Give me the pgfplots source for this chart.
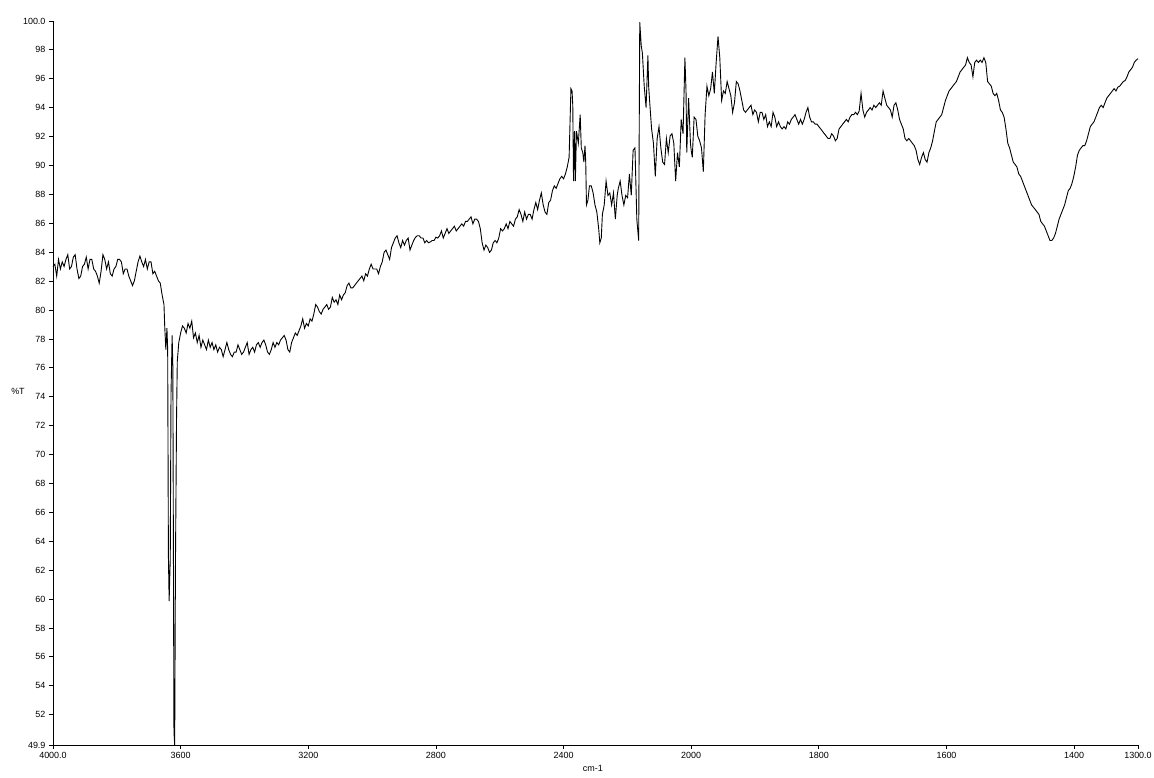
\documentclass[border=0pt]{standalone}
\usepackage{fontspec}
\setmainfont{Liberation Sans}
\usepackage{pgfplots}
\pgfplotsset{compat=1.18}

% IR spectrum: 4000-2000 cm-1 at one scale, 2000-1300 at twice that scale
\pgfplotsset{
  irbase/.style={
    scale only axis,
    height=724bp,
    ymin=49.9, ymax=100,
    x dir=reverse,
    axis x line*=bottom,
    axis line style={-, line width=0.8bp},
    tick align=outside,
    major tick length=4bp,
    tick style={black, line width=0.8bp},
    ticklabel style={font=\fontsize{9}{10}\selectfont},
    /pgf/number format/assume math mode=true,
    clip=false,
  },
  irline/.style={black, line width=0.9bp, mark=none},
}

\begin{document}
\begin{tikzpicture}
\useasboundingbox (-53bp,-33bp) rectangle (1101bp,745bp);

\begin{axis}[
  irbase,
  width=638.2bp,
  xmin=2000, xmax=4000,
  axis y line*=left,
  xtick={4000,3600,3200,2800,2400},
  xticklabels={4000.0,3600,3200,2800,2400},
  ytick={49.9,52,54,56,58,60,62,64,66,68,70,72,74,76,78,80,82,84,86,88,90,92,94,96,98,100},
  yticklabels={49.9,52,54,56,58,60,62,64,66,68,70,72,74,76,78,80,82,84,86,88,90,92,94,96,98,100.0},
  ylabel={\%T},
  ylabel style={rotate=-90, at={(axis description cs:0,0.488)}, anchor=center, xshift=-35bp, font=\fontsize{9}{10}\selectfont},
  xlabel={cm-1},
  xlabel style={at={(axis description cs:0.846,0)}, anchor=center, yshift=-23bp, font=\fontsize{9}{10}\selectfont},
]
\addplot[irline] coordinates {
(4000.0,83.01) (3994.2,83.17) (3988.4,82.35) (3982.6,83.50) (3976.8,82.84)
(3971.0,83.33) (3965.2,83.01) (3959.4,83.50) (3953.6,83.83) (3947.8,82.84)
(3942.1,83.01) (3936.3,83.66) (3930.5,83.83) (3924.7,82.84) (3918.9,82.18)
(3913.1,82.35) (3907.3,83.01) (3901.5,83.17) (3895.7,83.66) (3889.9,82.84)
(3884.1,83.50) (3878.3,83.50) (3872.5,82.84) (3866.7,82.68) (3860.9,82.35)
(3855.1,81.86) (3849.3,82.68) (3843.5,83.83) (3837.7,83.50) (3831.9,82.84)
(3826.1,83.33) (3820.3,82.51) (3814.5,82.35) (3808.7,82.84) (3802.9,83.01)
(3797.2,83.50) (3791.3,83.50) (3785.6,83.33) (3779.7,82.51) (3774.0,82.84)
(3768.1,82.84) (3762.4,82.35) (3756.6,82.02) (3750.8,81.69) (3745.0,82.02)
(3739.2,82.68) (3733.4,83.33) (3727.6,83.73) (3721.8,83.33) (3716.0,83.01)
(3710.2,83.50) (3704.4,82.84) (3698.6,83.33) (3692.8,83.33) (3687.0,82.51)
(3681.2,82.68) (3675.4,82.35) (3669.6,82.02) (3663.8,81.86) (3658.0,81.04)
(3652.2,80.38) (3649.9,78.90) (3646.4,77.26) (3642.9,78.74) (3640.6,77.26)
(3638.3,62.97) (3636.0,59.85) (3632.5,62.81) (3630.2,74.14) (3626.7,78.24)
(3624.4,76.11) (3620.9,50.82) (3618.6,49.90) (3616.3,62.15) (3612.8,72.50)
(3610.5,76.44) (3605.8,77.75) (3600.0,78.41) (3594.2,78.90) (3588.4,78.74)
(3582.6,78.41) (3576.8,79.07) (3571.0,78.74) (3565.2,79.23) (3559.5,78.08)
(3553.7,78.41) (3547.9,77.75) (3542.1,78.24) (3536.3,77.42) (3530.5,77.92)
(3524.7,77.59) (3518.9,77.26) (3513.1,77.92) (3507.3,77.42) (3501.5,77.75)
(3495.7,77.26) (3489.9,77.59) (3484.1,77.09) (3478.3,77.42) (3472.5,77.26)
(3466.7,76.77) (3460.9,77.26) (3455.1,77.75) (3449.3,77.26) (3443.5,76.93)
(3437.7,76.77) (3431.9,77.09) (3426.1,77.09) (3420.3,77.59) (3414.5,77.26)
(3408.7,76.93) (3402.9,77.09) (3397.1,77.42) (3391.4,77.75) (3385.5,76.93)
(3379.8,77.26) (3374.0,77.42) (3368.2,77.09) (3362.4,77.59) (3356.6,77.75)
(3350.8,77.42) (3345.0,77.75) (3339.2,77.92) (3333.4,77.59) (3327.6,77.09)
(3321.8,76.93) (3316.0,77.26) (3310.2,77.75) (3304.4,77.42) (3298.6,77.75)
(3292.8,77.59) (3287.0,77.92) (3281.2,78.08) (3275.4,78.24) (3269.6,77.92)
(3263.8,77.26) (3258.0,77.09) (3252.2,77.75) (3246.4,78.08) (3240.6,78.41)
(3234.8,78.24) (3229.0,78.57) (3223.2,78.90) (3217.4,79.39) (3211.6,78.74)
(3205.8,79.07) (3200.0,78.90) (3194.2,79.39) (3188.4,79.23) (3182.6,79.72)
(3176.8,80.38) (3171.1,80.21) (3165.3,79.89) (3159.5,79.72) (3153.7,80.05)
(3147.9,80.21) (3142.1,80.38) (3136.3,80.05) (3130.5,80.21) (3124.7,80.87)
(3118.9,80.54) (3113.1,80.71) (3107.3,80.38) (3101.5,81.04) (3095.7,80.71)
(3089.9,81.04) (3084.1,81.20) (3078.3,81.69) (3072.5,81.86) (3066.7,81.53)
(3060.9,81.53) (3055.1,81.69) (3049.3,81.86) (3043.5,82.02) (3037.7,82.18)
(3031.9,82.35) (3026.1,82.02) (3020.3,82.51) (3014.5,82.35) (3008.7,82.84)
(3002.9,83.17) (2997.1,82.84) (2991.3,82.84) (2985.6,82.84) (2979.8,82.51)
(2974.0,83.01) (2968.2,83.33) (2962.4,83.99) (2956.6,84.15) (2950.8,83.83)
(2945.0,83.50) (2939.2,84.32) (2933.4,84.65) (2927.6,84.98) (2921.8,85.14)
(2916.0,84.65) (2910.2,84.32) (2904.4,84.81) (2898.6,84.49) (2892.8,84.81)
(2887.0,84.98) (2881.2,84.15) (2875.4,84.49) (2869.6,84.81) (2863.8,85.04)
(2858.0,85.14) (2852.2,85.14) (2846.4,84.98) (2840.6,84.98) (2834.8,84.65)
(2829.0,84.81) (2823.2,84.65) (2817.4,84.71) (2811.6,84.81) (2805.8,84.81)
(2800.0,85.04) (2794.2,84.98) (2788.4,85.14) (2782.7,85.47) (2776.9,84.98)
(2771.1,85.30) (2765.3,85.63) (2759.5,85.30) (2753.7,85.47) (2747.9,85.63)
(2742.1,85.80) (2736.3,85.47) (2730.5,85.63) (2724.7,85.80) (2718.9,85.96)
(2713.1,85.80) (2707.3,86.13) (2701.5,86.13) (2695.7,86.29) (2689.9,86.45)
(2684.1,85.96) (2678.3,86.29) (2672.5,86.29) (2666.7,86.13) (2660.9,85.63)
(2655.1,84.65) (2649.3,84.15) (2643.5,84.49) (2637.7,84.32) (2631.9,83.99)
(2626.1,84.15) (2620.3,84.65) (2614.5,84.81) (2608.8,84.65) (2603.0,84.98)
(2597.2,85.63) (2591.4,85.47) (2585.6,85.63) (2579.8,85.96) (2574.0,85.63)
(2568.2,86.13) (2562.4,85.96) (2556.6,85.80) (2550.8,86.29) (2545.0,86.45)
(2539.2,86.95) (2533.4,86.62) (2527.6,86.13) (2521.8,86.78) (2516.0,86.29)
(2510.2,86.62) (2504.4,86.62) (2498.6,86.29) (2492.8,86.95) (2487.0,87.44)
(2481.2,86.95) (2475.4,87.60) (2469.6,88.10) (2463.8,87.27) (2458.0,86.78)
(2452.2,86.62) (2446.4,87.44) (2440.6,87.60) (2434.8,88.26) (2429.0,88.59)
(2423.2,88.42) (2417.4,88.75) (2411.6,89.08) (2405.8,89.25) (2400.0,89.08)
(2394.2,89.41) (2388.4,89.90) (2382.6,90.56) (2376.9,95.32) (2373.4,95.16)
(2371.1,94.17) (2368.7,88.92) (2365.3,92.37) (2363.0,88.92) (2359.5,92.37)
(2353.7,91.54) (2347.9,93.52) (2344.4,91.22) (2339.8,90.89) (2336.3,90.23)
(2332.8,91.38) (2330.5,90.23) (2328.2,87.27) (2323.6,87.60) (2318.9,88.59)
(2313.1,88.59) (2307.3,88.10) (2301.5,87.27) (2295.7,86.78) (2289.9,85.63)
(2286.4,84.65) (2281.8,84.98) (2278.3,86.62) (2272.5,87.27) (2266.7,88.92)
(2260.9,87.93) (2255.1,88.10) (2249.3,87.27) (2243.5,88.10) (2237.7,86.29)
(2231.9,87.93) (2228.4,88.42) (2222.6,88.92) (2216.8,87.93) (2211.0,87.27)
(2205.2,87.93) (2199.4,87.77) (2193.6,89.41) (2187.8,87.93) (2182.0,91.05)
(2176.2,91.22) (2170.4,86.29) (2164.6,84.81) (2161.2,99.92) (2156.5,98.28)
(2153.0,97.78) (2147.2,95.49) (2141.4,94.01) (2135.6,97.62) (2133.3,95.49)
(2129.9,94.34) (2124.1,92.53) (2118.3,91.54) (2112.5,89.25) (2106.7,91.87)
(2100.9,92.69) (2095.1,91.22) (2089.3,90.23) (2083.5,90.07) (2077.7,91.87)
(2071.9,90.89) (2066.1,92.04) (2060.3,92.20) (2054.5,91.54) (2048.7,88.92)
(2042.9,90.89) (2037.1,89.90) (2031.3,93.19) (2025.5,92.20) (2019.7,97.46)
(2016.2,95.16) (2013.9,90.89) (2008.1,94.66) (2002.3,91.54) (2000.0,91.05)
};
\end{axis}

\begin{axis}[
  irbase,
  at={(638.2bp,0)}, anchor=south west,
  width=446.8bp,
  xmin=1300, xmax=2000,
  axis y line=none,
  xtick={2000,1800,1600,1400,1300},
  xticklabels={2000,1800,1600,1400,1300.0},
]
\addplot[irline] coordinates {
(2000.0,91.05) (1998.3,90.56) (1995.4,93.35) (1992.5,93.19) (1989.7,92.04)
(1986.8,91.71) (1983.9,91.22) (1981.0,89.57) (1978.2,93.52) (1975.3,95.49)
(1972.4,94.83) (1969.5,95.32) (1966.7,96.47) (1963.8,94.99) (1960.9,97.13)
(1958.0,98.93) (1955.2,97.46) (1952.3,94.50) (1949.4,95.16) (1946.6,94.99)
(1943.7,95.81) (1940.8,95.32) (1937.9,94.83) (1935.1,93.68) (1932.2,94.34)
(1929.3,95.81) (1926.4,95.65) (1923.6,95.16) (1920.7,94.50) (1917.8,93.84)
(1914.9,93.68) (1912.1,93.84) (1909.2,94.01) (1906.3,94.17) (1903.4,93.52)
(1900.6,93.84) (1897.7,93.68) (1894.8,93.02) (1891.9,93.68) (1889.1,93.68)
(1886.2,93.19) (1883.3,93.52) (1880.5,92.69) (1877.6,93.02) (1874.7,92.69)
(1871.8,93.68) (1869.0,93.35) (1866.1,92.69) (1863.2,93.02) (1860.3,92.69)
(1857.5,92.53) (1854.6,92.69) (1851.7,92.53) (1848.9,93.02) (1846.0,92.86)
(1843.1,93.19) (1840.2,93.35) (1837.4,93.52) (1834.5,93.19) (1831.6,92.86)
(1828.7,93.19) (1825.9,92.86) (1823.0,93.19) (1820.1,93.68) (1817.2,94.01)
(1814.4,93.35) (1811.5,93.02) (1808.6,93.02) (1805.8,92.86) (1802.9,92.86)
(1800.0,92.69) (1797.1,92.53) (1794.3,92.37) (1791.4,92.20) (1788.5,92.04)
(1785.6,91.87) (1782.8,91.87) (1779.9,92.20) (1777.0,92.04) (1774.1,91.71)
(1771.3,91.87) (1768.4,92.53) (1765.5,92.69) (1762.7,92.86) (1759.8,93.02)
(1756.9,93.19) (1754.0,93.02) (1751.2,93.35) (1748.3,93.52) (1745.4,93.52)
(1742.5,93.68) (1739.7,93.52) (1736.8,93.78) (1733.9,94.99) (1731.0,93.84)
(1728.2,93.35) (1725.3,93.68) (1722.4,93.84) (1719.6,94.01) (1716.7,93.84)
(1713.8,94.17) (1710.9,94.01) (1708.1,94.17) (1705.2,94.34) (1702.3,94.17)
(1699.4,95.16) (1696.6,94.66) (1693.7,94.17) (1690.8,94.01) (1687.9,93.84)
(1685.1,93.35) (1682.2,94.17) (1679.3,94.34) (1676.4,93.84) (1673.6,93.19)
(1670.7,92.86) (1667.8,92.53) (1665.0,91.87) (1662.1,91.71) (1659.2,91.87)
(1656.3,91.71) (1653.5,91.54) (1650.6,91.38) (1647.7,91.05) (1644.8,90.40)
(1642.0,90.07) (1639.1,90.56) (1636.2,90.89) (1633.3,90.40) (1630.5,90.23)
(1627.6,90.89) (1624.7,91.22) (1621.8,91.71) (1619.0,92.37) (1616.1,93.02)
(1613.2,93.19) (1610.4,93.35) (1607.5,93.52) (1604.6,94.01) (1601.7,94.50)
(1598.9,94.83) (1596.0,95.16) (1593.1,95.32) (1590.2,95.49) (1587.4,95.65)
(1584.5,95.81) (1581.6,96.14) (1578.7,96.47) (1575.9,96.63) (1573.0,96.80)
(1570.1,96.96) (1567.3,97.46) (1564.4,97.13) (1561.5,96.96) (1558.6,96.14)
(1555.8,97.13) (1552.9,97.29) (1550.0,97.13) (1547.1,97.29) (1544.3,97.13)
(1541.4,97.46) (1538.5,97.13) (1535.6,95.81) (1532.8,95.65) (1529.9,95.49)
(1527.0,94.99) (1524.1,94.83) (1521.3,94.99) (1518.4,94.50) (1515.5,93.84)
(1512.7,93.68) (1509.8,93.35) (1506.9,92.53) (1504.0,91.54) (1501.2,91.22)
(1498.3,90.72) (1495.4,90.23) (1492.5,90.07) (1489.7,89.90) (1486.8,89.41)
(1483.9,89.25) (1481.0,88.92) (1478.2,88.59) (1475.3,88.26) (1472.4,87.93)
(1469.6,87.60) (1466.7,87.27) (1463.8,87.11) (1460.9,86.95) (1458.1,86.78)
(1455.2,86.62) (1452.3,86.13) (1449.4,85.96) (1446.6,85.80) (1443.7,85.47)
(1440.8,85.14) (1437.9,84.81) (1435.1,84.81) (1432.2,84.98) (1429.3,85.30)
(1426.4,85.80) (1423.6,86.29) (1420.7,86.62) (1417.8,86.95) (1415.0,87.27)
(1412.1,87.77) (1409.2,88.26) (1406.3,88.42) (1403.5,88.75) (1400.6,89.25)
(1397.7,89.90) (1394.8,90.72) (1392.0,91.05) (1389.1,91.22) (1386.2,91.38)
(1383.3,91.38) (1380.5,91.71) (1377.6,92.20) (1374.7,92.69) (1371.9,92.86)
(1369.0,93.02) (1366.1,93.35) (1363.2,93.68) (1360.4,94.01) (1357.5,94.17)
(1354.6,94.01) (1351.7,94.34) (1348.9,94.66) (1346.0,94.83) (1343.1,94.99)
(1340.2,95.16) (1337.4,95.32) (1334.5,95.16) (1331.6,95.42) (1328.7,95.49)
(1325.9,95.65) (1323.0,95.81) (1320.1,95.88) (1317.2,96.14) (1314.4,96.47)
(1311.5,96.63) (1308.6,96.80) (1305.8,97.13) (1302.9,97.29) (1300.0,97.39)
};
\end{axis}
\end{tikzpicture}
\end{document}
